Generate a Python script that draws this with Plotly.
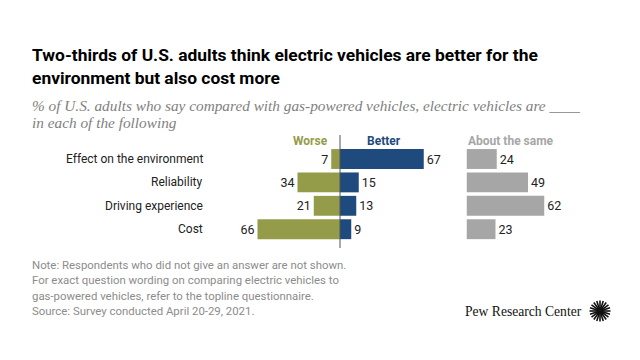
import math
import plotly.graph_objects as go

categories = ["Effect on the environment", "Reliability", "Driving experience", "Cost"]
worse = [7, 34, 21, 66]
better = [67, 15, 13, 9]
same = [24, 49, 62, 23]

PAGE_W, PAGE_H = 640, 360
OFF = 8  # default body margin of the html page
W, H = PAGE_W - OFF, PAGE_H - OFF
PX_PER_UNIT = 1.25
CENTER_PX = 340
SAME_OFFSET = 101.4
ROW0_PX = 159
ROW_STEP = 23.4

x_lo = (OFF - CENTER_PX) / PX_PER_UNIT
x_hi = (PAGE_W - CENTER_PX) / PX_PER_UNIT
y_top = (OFF - ROW0_PX) / ROW_STEP
y_bot = (PAGE_H - ROW0_PX) / ROW_STEP

OLIVE = "#949c4a"
NAVY = "#1f4a7d"
GRAY = "#a6a6a6"
SANS = "Roboto, sans-serif"
SERIF = "Liberation Serif, serif"

ys = list(range(len(categories)))

fig = go.Figure()
common = dict(orientation="h", width=0.85, textposition="outside", cliponaxis=False,
              hoverinfo="skip", textfont=dict(family=SANS, size=12.5, color="#222"))
fig.add_trace(go.Bar(y=ys, x=[-v for v in worse], marker=dict(color=OLIVE, line=dict(width=0)),
                     text=[str(v) for v in worse], **common))
fig.add_trace(go.Bar(y=ys, x=better, marker=dict(color=NAVY, line=dict(width=0)),
                     text=[str(v) for v in better], **common))
fig.add_trace(go.Bar(y=ys, x=same, base=[SAME_OFFSET] * len(same),
                     marker=dict(color=GRAY, line=dict(width=0)),
                     text=[str(v) for v in same], **common))


def px_x(p):
    return (p - OFF) / W


def px_y(p):
    return 1 - (p - OFF) / H


ann = []


def add_text(x, y, text, anchor, size, color, family=SANS):
    ann.append(dict(x=px_x(x), y=px_y(y), xref="paper", yref="paper", text=text,
                    showarrow=False, xanchor=anchor, yanchor="middle", align="left",
                    font=dict(family=family, size=size, color=color)))


for i, c in enumerate(categories):
    add_text(205, ROW0_PX + ROW_STEP * i, c, "right", 12, "#222")

add_text(330, 141, "<b>Worse</b>", "right", 12, OLIVE)
add_text(365, 141, "<b>Better</b>", "left", 12, NAVY)
add_text(466, 141, "<b>About the same</b>", "left", 12, GRAY)

add_text(30, 66.5,
         "<b>Two-thirds of U.S. adults think electric vehicles are better for the<br>"
         "environment but also cost more</b>",
         "left", 17.4, "#000")

add_text(30, 105, "<i>% of U.S. adults who say compared with gas-powered vehicles, electric vehicles are ____</i>",
         "left", 15.3, "#7f7f7f", SERIF)
add_text(30, 122, "<i>in each of the following</i>", "left", 15.3, "#7f7f7f", SERIF)

notes = ["Note: Respondents who did not give an answer are not shown.",
         "For exact question wording on comparing electric vehicles to",
         "gas-powered vehicles, refer to the topline questionnaire.",
         "Source: Survey conducted April 20-29, 2021."]
for i, t in enumerate(notes):
    add_text(30, 265 + 15.3 * i, t, "left", 11.4, "#8c8c8c")

add_text(584, 311, "Pew Research Center", "right", 13.6, "#111", SERIF)

shapes = [dict(type="line", xref="x", yref="paper", x0=0, x1=0, y0=px_y(135), y1=px_y(248),
               line=dict(color="#555", width=1))]
cx, cy = 600, 311
n = 20
for k in range(n):
    a = 2 * math.pi * k / n
    r0, r1 = 2.5, 10.5
    shapes.append(dict(type="line", xref="paper", yref="paper",
                       x0=px_x(cx + r0 * math.cos(a)), y0=px_y(cy + r0 * math.sin(a)),
                       x1=px_x(cx + r1 * math.cos(a)), y1=px_y(cy + r1 * math.sin(a)),
                       line=dict(color="#111", width=1.6)))
shapes.append(dict(type="circle", xref="paper", yref="paper",
                   x0=px_x(cx - 3.5), x1=px_x(cx + 3.5), y0=px_y(cy + 3.5), y1=px_y(cy - 3.5),
                   fillcolor="#111", line=dict(width=0)))

fig.update_layout(
    width=W, height=H, margin=dict(l=0, r=0, t=0, b=0),
    paper_bgcolor="white", plot_bgcolor="white",
    showlegend=False, barmode="overlay",
    xaxis=dict(range=[x_lo, x_hi], visible=False, fixedrange=True),
    yaxis=dict(range=[y_bot, y_top], visible=False, fixedrange=True),
    annotations=ann, shapes=shapes,
)
fig.write_html("out.html")
